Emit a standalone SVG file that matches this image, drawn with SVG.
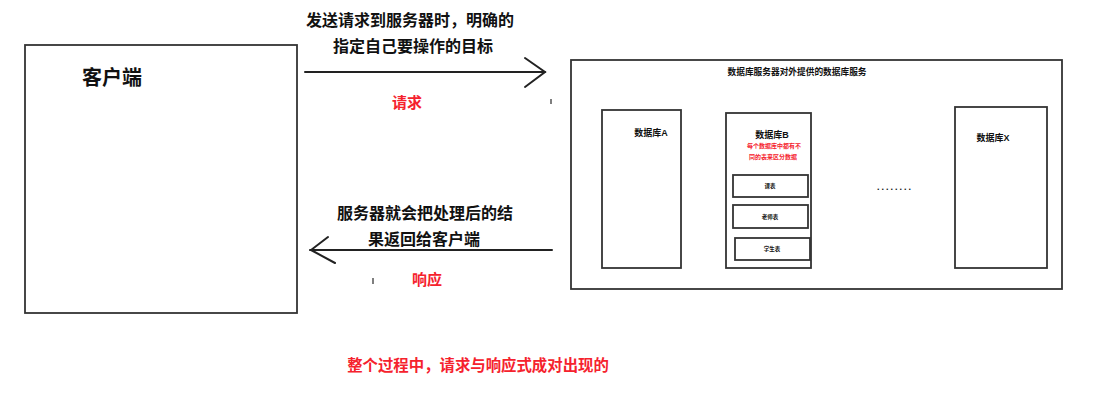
<svg xmlns="http://www.w3.org/2000/svg" width="1097" height="410" viewBox="0 0 1097 410">
<style>
.box{fill:#fff;stroke:#333;stroke-width:1.8}
.t{font-family:"Liberation Sans","Noto Sans CJK SC",sans-serif;fill:#111;font-weight:bold}
.r{font-family:"Liberation Sans","Noto Sans CJK SC",sans-serif;fill:#f5222d;font-weight:bold}
.ln{fill:none;stroke:#222;stroke-width:2;stroke-linecap:round}
</style>
<rect width="1097" height="410" fill="#fff"/>
<g id="client">
<rect class="box" x="25" y="45" width="272" height="268" stroke="#555" stroke-width="1.6"/>
<text class="t" x="82" y="85" font-size="20">客户端</text>
</g>
<g id="server">
<rect class="box" x="571" y="60" width="491" height="229" stroke-width="2"/>
<text class="t" x="797" y="75" font-size="8.7" text-anchor="middle">数据库服务器对外提供的数据库服务</text>
</g>
<g id="dbA">
<rect class="box" x="602" y="110" width="79" height="158"/>
<text class="t" x="651" y="136" font-size="9" text-anchor="middle">数据库A</text>
</g>
<g id="dbB">
<rect class="box" x="726" y="113" width="85" height="155"/>
<text class="t" x="772" y="138" font-size="9" text-anchor="middle">数据库B</text>
<text class="r" x="774" y="147.5" font-size="6" text-anchor="middle">每个数据库中都有不</text>
<text class="r" x="773" y="158.5" font-size="6" text-anchor="middle">同的表来区分数据</text>
</g>
<g id="t1">
<rect class="box" x="733" y="175" width="75" height="22"/>
<text class="t" x="770" y="188" font-size="5.5" text-anchor="middle">课表</text>
</g>
<g id="t2">
<rect class="box" x="733" y="205" width="75" height="23"/>
<text class="t" x="770" y="218.5" font-size="5.5" text-anchor="middle">老师表</text>
</g>
<g id="t3">
<rect class="box" x="735" y="238" width="75" height="22"/>
<text class="t" x="772" y="251" font-size="5.5" text-anchor="middle">学生表</text>
</g>
<g id="dots">
<text class="t" x="877" y="190" font-size="9" font-weight="normal" fill="#555" letter-spacing="2">........</text>
</g>
<g id="dbX">
<rect class="box" x="955" y="107" width="92" height="161"/>
<text class="t" x="993" y="141" font-size="9" text-anchor="middle">数据库X</text>
</g>
<g id="connectors">
<line class="ln" x1="305" y1="72" x2="545" y2="72"/>
<polyline class="ln" points="525,58 545,72 525,87"/>
<line class="ln" x1="310" y1="250" x2="552" y2="250"/>
<polyline class="ln" points="328,237 311,250 335,263"/>
<line x1="551" y1="99" x2="551" y2="104" stroke="#555" stroke-width="1.5"/>
<line x1="373" y1="278" x2="373" y2="284" stroke="#555" stroke-width="1.5"/>
</g>
<g id="labels">
<text class="t" x="410" y="26" font-size="16" text-anchor="middle">发送请求到服务器时，明确的</text>
<text class="t" x="413" y="52" font-size="16" text-anchor="middle">指定自己要操作的目标</text>
<text class="r" x="407" y="108" font-size="15" text-anchor="middle">请求</text>
<text class="t" x="425" y="219" font-size="16" text-anchor="middle">服务器就会把处理后的结</text>
<text class="t" x="424" y="245" font-size="16" text-anchor="middle">果返回给客户端</text>
<text class="r" x="427" y="285" font-size="15" text-anchor="middle">响应</text>
<text class="r" x="478" y="371" font-size="15.4" text-anchor="middle">整个过程中，请求与响应式成对出现的</text>
</g>
</svg>
